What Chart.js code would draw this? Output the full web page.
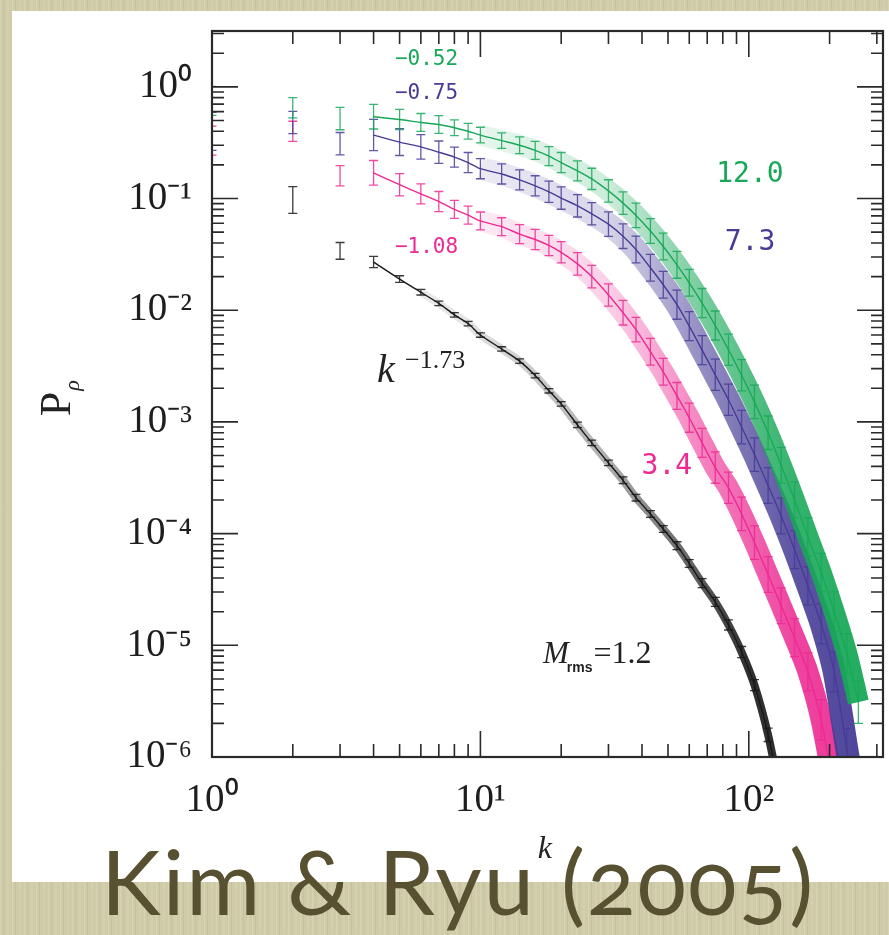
<!DOCTYPE html>
<html lang="en">
<head>
<meta charset="utf-8">
<title>Kim &amp; Ryu (2005)</title>
<script src="https://cdn.jsdelivr.net/npm/chart.js@4.4.1/dist/chart.umd.min.js"></script>
<style>
  html, body { margin: 0; padding: 0; }
  body {
    width: 889px; height: 935px; position: relative; overflow: hidden;
    background-color: #cfcba8;
    background-image:
      repeating-linear-gradient(90deg, rgba(255,255,255,0.16) 0 1px, rgba(0,0,0,0) 1px 3px, rgba(90,80,40,0.08) 3px 4px, rgba(0,0,0,0) 4px 7px, rgba(255,255,255,0.08) 7px 9px, rgba(0,0,0,0) 9px 12px);
  }
  #painel { position: absolute; left: 12px; top: 11px; right: 0; height: 871px; background: #fff; }
  #grafico { position: absolute; left: 0; top: 0; }
  #titulo {
    position: absolute; left: 101px; top: 835px; white-space: nowrap;
    font-family: 'Lato', sans-serif; font-weight: 400; letter-spacing: 2px;
    font-size: 90px; line-height: 90px; color: #575031;
    font-variant-numeric: oldstyle-nums;
  }
</style>
</head>
<body>
<div id="painel"></div>
<canvas id="grafico" width="889" height="935"></canvas>
<div id="titulo">Kim &amp; Ryu (2005)</div>
<script>
// numeros de onda k (comuns a todas as series)
const kVals = [1, 2, 3, 4, 5, 6, 7, 8, 9, 10, 12, 14, 16, 18, 20, 23, 26, 30, 34, 38,
  43, 48, 54, 60, 67, 75, 84, 94, 105, 118, 132, 148, 166, 186, 208, 232, 256];

// M_rms = 12.0 (verde)
const pVerde = [0.75, 0.65, 0.52, 0.54, 0.51, 0.48, 0.46, 0.43, 0.40, 0.37, 0.33, 0.30, 0.27, 0.24, 0.21,
  0.177, 0.150, 0.117, 0.091, 0.0706, 0.0512, 0.0372, 0.0255, 0.0176, 0.0116, 0.0073, 0.00443, 0.00262,
  0.00151, 8.0e-4, 4.1e-4, 2.0e-4, 9.4e-5, 4.5e-5, 2.0e-5, 8.4e-6, 3.1e-6];
const eVerde = [0.13, 0.09, 0.10, 0.11, 0.09, 0.08, 0.08, 0.07, 0.07, 0.07, 0.07, 0.075, 0.08, 0.085, 0.09,
  0.09, 0.095, 0.10, 0.10, 0.11, 0.11, 0.12, 0.12, 0.12, 0.13, 0.13, 0.14, 0.14, 0.15, 0.15,
  0.16, 0.16, 0.17, 0.17, 0.18, 0.18, 0.19];

// M_rms = 7.3 (roxo)
const pRoxo = [0.40, 0.48, 0.31, 0.37, 0.32, 0.29, 0.26, 0.235, 0.21, 0.185, 0.166, 0.147, 0.130, 0.115, 0.101,
  0.086, 0.073, 0.059, 0.046, 0.035, 0.024, 0.0169, 0.0112, 0.0072, 0.0044, 0.00264, 0.00158, 9.0e-4,
  5.1e-4, 2.7e-4, 1.44e-4, 7.2e-5, 3.4e-5, 1.56e-5, 5.8e-6, 1.16e-6, 2.7e-7];
const eRoxo = [0.17, 0.10, 0.10, 0.14, 0.12, 0.11, 0.10, 0.09, 0.09, 0.09, 0.09, 0.09, 0.09, 0.095, 0.10,
  0.10, 0.10, 0.11, 0.11, 0.12, 0.12, 0.12, 0.13, 0.13, 0.13, 0.14, 0.14, 0.15, 0.15, 0.16,
  0.16, 0.17, 0.17, 0.18, 0.18, 0.19, 0.19];

// M_rms = 3.4 (rosa)
const pRosa = [0.33, 0.40, 0.16, 0.17, 0.133, 0.110, 0.094, 0.080, 0.071, 0.063, 0.056, 0.048, 0.043, 0.038, 0.033,
  0.026, 0.020, 0.0137, 0.0095, 0.0067, 0.00425, 0.00281, 0.00171, 0.00109, 6.5e-4, 3.9e-4, 2.57e-4,
  1.50e-4, 8.3e-5, 4.3e-5, 2.26e-5, 1.17e-5, 5.8e-6, 2.15e-6, 5.1e-7];
const eRosa = [0.13, 0.09, 0.09, 0.11, 0.10, 0.09, 0.09, 0.08, 0.08, 0.08, 0.08, 0.085, 0.09, 0.09, 0.095,
  0.10, 0.10, 0.10, 0.11, 0.11, 0.12, 0.12, 0.12, 0.13, 0.13, 0.14, 0.14, 0.15, 0.15, 0.16,
  0.16, 0.17, 0.17, 0.18, 0.18];

// M_rms = 1.2 (preto)
const pPreto = [null, 0.097, 0.034, 0.027, 0.019, 0.0145, 0.0115, 0.0091, 0.0076, 0.0060, 0.0045, 0.0035, 0.0026,
  0.0019, 0.00145, 9.4e-4, 6.5e-4, 4.3e-4, 3.0e-4, 2.1e-4, 1.5e-4, 1.1e-4, 7.8e-5, 5.4e-5, 3.6e-5,
  2.45e-5, 1.52e-5, 8.7e-6, 4.4e-6, 1.58e-6, 4.2e-7];
const ePreto = [null, 0.12, 0.075, 0.05, 0.03, 0.025, 0.02, 0.02, 0.02, 0.02, 0.02, 0.02, 0.02, 0.02, 0.02,
  0.025, 0.025, 0.025, 0.03, 0.03, 0.03, 0.03, 0.035, 0.035, 0.04, 0.04, 0.045, 0.05, 0.05, 0.06, 0.06];

const corVerde = [24, 168, 88];
const corRoxo = [70, 60, 150];
const corRosa = [236, 42, 146];
const corPreto = [25, 25, 25];

function rgba(c, a) {
  return 'rgba(' + c[0] + ',' + c[1] + ',' + c[2] + ',' + a + ')';
}

function pontos(p, kMin) {
  return kVals.map((k, i) => ({ x: k, y: p[i] }))
    .filter(pt => pt.x >= kMin && pt.y !== null && pt.y !== undefined);
}

// faixa larga: fica mais forte para k grande
function gradienteFaixa(cor, paradas) {
  return function(context) {
    const chart = context.chart;
    const a = chart.chartArea;
    if (!a) return rgba(cor, 0.5);
    const x = chart.scales.x;
    const g = chart.ctx.createLinearGradient(a.left, 0, a.right, 0);
    paradas.forEach(([k, alfa]) => {
      const pos = (x.getPixelForValue(k) - a.left) / (a.right - a.left);
      g.addColorStop(Math.min(1, Math.max(0, pos)), rgba(cor, alfa));
    });
    return g;
  };
}

const paradasCor = [[10, 0.10], [30, 0.22], [70, 0.6], [150, 0.88], [256, 0.95]];
const paradasPreto = [[8, 0.10], [30, 0.35], [100, 0.9]];

const barrasPorSerie = {
  'M12.0': { p: pVerde, e: eVerde, cor: corVerde },
  'M7.3': { p: pRoxo, e: eRoxo, cor: corRoxo },
  'M3.4': { p: pRosa, e: eRosa, cor: corRosa },
  'M1.2': { p: pPreto, e: ePreto, cor: corPreto }
};

function linha(nome, p, cor) {
  return {
    label: nome, data: pontos(p, 4), borderColor: rgba(cor, 1), borderWidth: 1.4,
    pointRadius: 0, tension: 0.25, clip: 0, fill: false
  };
}
function faixa(nome, p, cor, largura, kMin, paradas) {
  return {
    label: nome + ' faixa', data: pontos(p, kMin), borderColor: gradienteFaixa(cor, paradas),
    borderWidth: largura, pointRadius: 0, tension: 0.25, clip: 0, fill: false
  };
}

// o primeiro dataset fica por cima
const datasets = [
  linha('M12.0', pVerde, corVerde), faixa('M12.0', pVerde, corVerde, 21, 10, paradasCor),
  linha('M7.3', pRoxo, corRoxo), faixa('M7.3', pRoxo, corRoxo, 23, 10, paradasCor),
  linha('M3.4', pRosa, corRosa), faixa('M3.4', pRosa, corRosa, 21, 10, paradasCor),
  linha('M1.2', pPreto, corPreto), faixa('M1.2', pPreto, corPreto, 8, 6, paradasPreto)
];

const sup = { '-': '⁻', '0': '⁰', '1': '¹', '2': '²', '3': '³', '4': '⁴', '5': '⁵', '6': '⁶' };
function rotuloLog(v) {
  const e = Math.log10(v);
  if (Math.abs(e - Math.round(e)) > 1e-6) return '';
  return '10' + String(Math.round(e)).split('').map(c => sup[c]).join('');
}

// anotacoes coloridas (posicao em coordenadas dos dados)
const rotulos = [
  { texto: '−0.52', k: 6.3, p: 1.75, cor: corVerde, fonte: '21px "DejaVu Sans Mono"' },
  { texto: '−0.75', k: 6.3, p: 0.88, cor: corRoxo, fonte: '21px "DejaVu Sans Mono"' },
  { texto: '−1.08', k: 6.3, p: 0.0362, cor: corRosa, fonte: '21px "DejaVu Sans Mono"' },
  { texto: '12.0', k: 101, p: 0.163, cor: corVerde, fonte: '28px "DejaVu Sans Mono"' },
  { texto: '7.3', k: 101, p: 0.040, cor: corRoxo, fonte: '28px "DejaVu Sans Mono"' },
  { texto: '3.4', k: 49.5, p: 3.96e-4, cor: corRosa, fonte: '28px "DejaVu Sans Mono"' }
];

const barrasPlugin = {
  id: 'barrasErro',
  afterDatasetDraw(chart, args) {
    const ds = chart.data.datasets[args.index];
    const b = barrasPorSerie[ds.label];
    if (!b) return;
    const { ctx, chartArea: a, scales: { x, y } } = chart;
    ctx.save();
    ctx.beginPath();
    ctx.rect(a.left, a.top, a.right - a.left, a.bottom - a.top);
    ctx.clip();
    ctx.strokeStyle = rgba(b.cor, 0.85);
    ctx.lineWidth = 1.3;
    ctx.beginPath();
    kVals.forEach((k, i) => {
      const p = b.p[i], e = b.e[i];
      if (p === null || p === undefined || e === null || e === undefined) return;
      const px = x.getPixelForValue(k);
      const y1 = y.getPixelForValue(p * Math.pow(10, e));
      const y2 = y.getPixelForValue(p / Math.pow(10, e));
      ctx.moveTo(px, y1); ctx.lineTo(px, y2);
      ctx.moveTo(px - 4.5, y1); ctx.lineTo(px + 4.5, y1);
      ctx.moveTo(px - 4.5, y2); ctx.lineTo(px + 4.5, y2);
    });
    ctx.stroke();
    ctx.restore();
  }
};

// moldura com tracinhos para dentro nos quatro lados
const molduraPlugin = {
  id: 'moldura',
  afterDraw(chart) {
    const { ctx, chartArea: a, scales: { x, y } } = chart;
    ctx.save();
    ctx.strokeStyle = '#2a2a2a';
    ctx.lineWidth = 1.6;
    ctx.beginPath();
    for (let d = 0; d <= 2; d++) {
      for (let m = 1; m <= 9; m++) {
        const v = m * Math.pow(10, d);
        if (v > x.max) break;
        const px = x.getPixelForValue(v);
        const len = m === 1 ? 26 : 13;
        ctx.moveTo(px, a.bottom); ctx.lineTo(px, a.bottom - len);
        ctx.moveTo(px, a.top); ctx.lineTo(px, a.top + len);
      }
    }
    for (let d = -6; d <= 0; d++) {
      for (let m = 1; m <= 9; m++) {
        const v = m * Math.pow(10, d);
        if (v > y.max) break;
        const py = y.getPixelForValue(v);
        const len = m === 1 ? 26 : 12;
        ctx.moveTo(a.left, py); ctx.lineTo(a.left + len, py);
        ctx.moveTo(a.right, py); ctx.lineTo(a.right - len, py);
      }
    }
    ctx.stroke();
    ctx.lineWidth = 2.2;
    ctx.strokeRect(a.left, a.top, a.right - a.left, a.bottom - a.top);
    ctx.restore();
  }
};

const textosPlugin = {
  id: 'textos',
  afterDraw(chart) {
    const { ctx, chartArea: a, scales: { x, y } } = chart;
    ctx.save();
    ctx.textAlign = 'center';
    ctx.textBaseline = 'middle';
    rotulos.forEach(r => {
      ctx.font = r.fonte;
      ctx.fillStyle = rgba(r.cor, 1);
      ctx.fillText(r.texto, x.getPixelForValue(r.k), y.getPixelForValue(r.p));
    });

    ctx.fillStyle = '#222';
    ctx.textAlign = 'left';
    ctx.textBaseline = 'alphabetic';
    // k^-1.73
    let px = x.getPixelForValue(4.12), py = y.getPixelForValue(2.29e-3);
    ctx.font = 'italic 40px "Liberation Serif"';
    ctx.fillText('k', px, py);
    ctx.font = '26px "Liberation Serif"';
    ctx.fillText('−1.73', px + 28, py - 14);

    // M_rms = 1.2
    px = x.getPixelForValue(17.1); py = y.getPixelForValue(6.97e-6);
    ctx.font = 'italic 31px "Liberation Serif"';
    ctx.fillText('M', px, py);
    const wM = ctx.measureText('M').width;
    ctx.font = 'bold 14px "Liberation Sans"';
    ctx.fillText('rms', px + wM - 2, py + 9);
    const wr = ctx.measureText('rms').width;
    ctx.font = '32px "Liberation Serif"';
    ctx.fillText('=1.2', px + wM + wr - 1, py);

    // titulo do eixo x
    ctx.textAlign = 'center';
    ctx.font = 'italic 32px "Liberation Serif"';
    ctx.fillText('k', x.getPixelForValue(17.4), a.bottom + 101);

    // titulo do eixo y, girado
    ctx.save();
    ctx.translate(a.left - 142, y.getPixelForValue(1.5e-3) + 14);
    ctx.rotate(-Math.PI / 2);
    ctx.textAlign = 'left';
    ctx.font = '44px "Liberation Serif"';
    ctx.fillText('P', 0, 0);
    const wP = ctx.measureText('P').width;
    ctx.font = 'italic 22px "Liberation Serif"';
    ctx.fillText('ρ', wP + 1, 9);
    ctx.restore();

    ctx.restore();
  }
};

const fonteEixo = { family: 'Liberation Serif', size: 39 };

new Chart(document.getElementById('grafico'), {
  type: 'line',
  data: { datasets: datasets },
  options: {
    responsive: false,
    animation: false,
    devicePixelRatio: 1,
    layout: { padding: { left: 0, top: 31, right: 6, bottom: 0 } },
    plugins: { legend: { display: false }, tooltip: { enabled: false } },
    scales: {
      x: {
        type: 'logarithmic', position: 'bottom', min: 1, max: Math.pow(10, 2.5),
        grid: { display: false, drawTicks: false }, border: { display: false },
        ticks: { autoSkip: false, maxRotation: 0, padding: 20, font: fonteEixo, color: '#1e1e1e', callback: rotuloLog },
        afterFit: s => { s.height = 178; s.paddingLeft = 0; s.paddingRight = 0; }
      },
      y: {
        type: 'logarithmic', position: 'left', min: 1e-6, max: Math.pow(10, 0.5),
        grid: { display: false, drawTicks: false }, border: { display: false },
        ticks: { autoSkip: false, padding: 20, font: fonteEixo, color: '#1e1e1e', callback: rotuloLog },
        afterFit: s => { s.width = 212; s.paddingTop = 0; s.paddingBottom = 0; }
      }
    }
  },
  plugins: [barrasPlugin, molduraPlugin, textosPlugin]
});
</script>
</body>
</html>
